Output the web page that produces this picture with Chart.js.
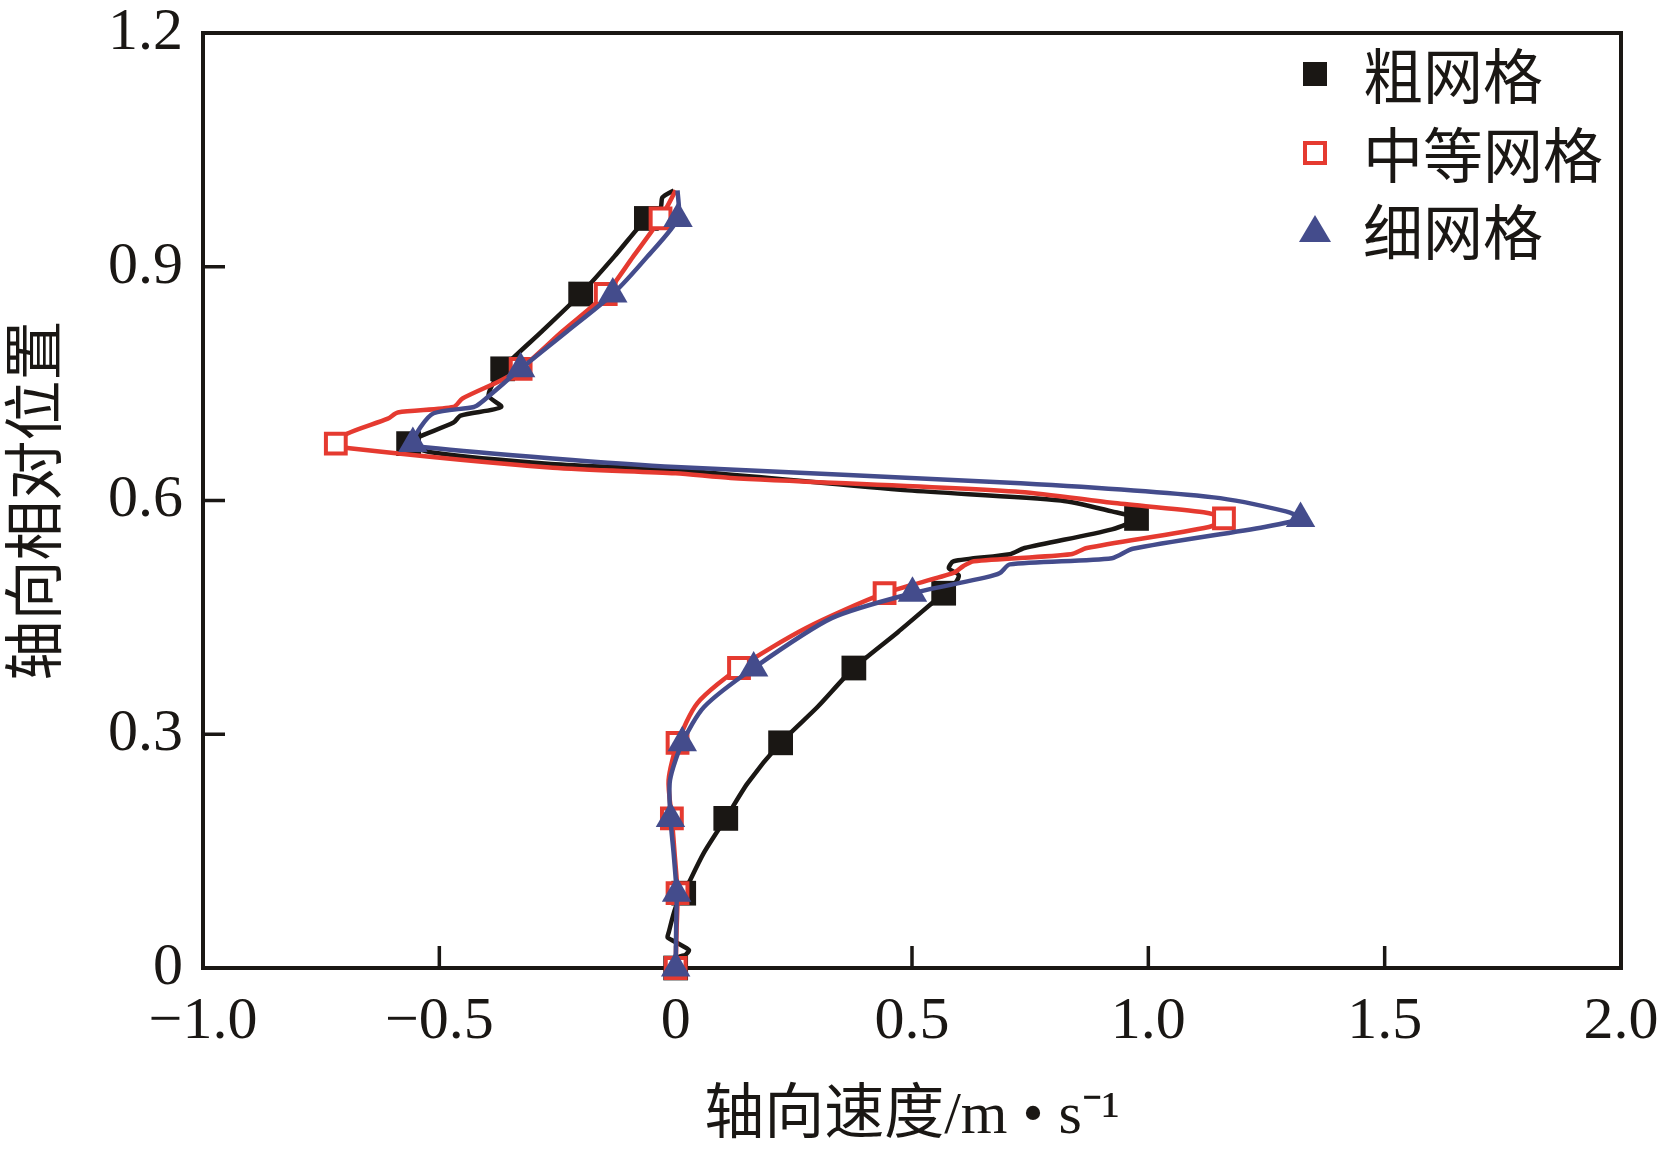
<!DOCTYPE html>
<html>
<head>
<meta charset="utf-8">
<script src="https://cdn.jsdelivr.net/npm/chart.js@4.4.1/dist/chart.umd.min.js"></script>
<style>
  html, body { margin: 0; padding: 0; background: #fff; }
  #velChart { display: block; width: 1674px; height: 1155px; }
</style>
</head>
<body>
<canvas id="velChart" width="1674" height="1155"></canvas>
<script>
// series names (legend)
const seriesNames = ["粗网格", "中等网格", "细网格"];

// rows where the curves carry a marker
const markerLevels = [0, 0.096, 0.192, 0.289, 0.385, 0.481, 0.577, 0.673, 0.769, 0.865, 0.962];

// 粗网格 : axial velocity (x) against relative axial position (y)
const coarseY = [0, 0.014, 0.017, 0.023, 0.032, 0.039, 0.045, 0.078,
  0.096, 0.147, 0.192, 0.237, 0.289, 0.335, 0.385, 0.431,
  0.481, 0.491, 0.504, 0.513, 0.522, 0.531, 0.539, 0.563,
  0.577, 0.586, 0.600, 0.613, 0.639, 0.647, 0.662, 0.673,
  0.681, 0.700, 0.709, 0.720, 0.735, 0.769, 0.817, 0.865,
  0.913, 0.962, 0.976, 0.989, 0.998];
const coarseX = [0.0, 0.006, 0.021, 0.028, 0.004, -0.017, -0.015, 0.0,
  0.017, 0.059, 0.106, 0.152, 0.222, 0.300, 0.377, 0.470,
  0.567, 0.588, 0.599, 0.578, 0.588, 0.707, 0.738, 0.923,
  0.975, 0.923, 0.815, 0.491, 0.0, -0.264, -0.518, -0.565,
  -0.546, -0.470, -0.455, -0.369, -0.396, -0.366, -0.283, -0.201,
  -0.130, -0.062, -0.032, -0.028, -0.004];

// 中等网格
const mediumY = [0, 0.05, 0.096, 0.145, 0.192, 0.241, 0.289, 0.340,
  0.385, 0.436, 0.481, 0.507, 0.516, 0.522, 0.531, 0.539,
  0.566, 0.577, 0.585, 0.597, 0.611, 0.629, 0.635, 0.642,
  0.667, 0.673, 0.686, 0.705, 0.713, 0.720, 0.731, 0.754,
  0.769, 0.817, 0.865, 0.913, 0.962, 0.998];
const mediumX = [0.0, 0.002, 0.004, -0.002, -0.008, -0.015, 0.004, 0.046,
  0.134, 0.275, 0.442, 0.588, 0.609, 0.631, 0.836, 0.870,
  1.128, 1.160, 1.117, 0.923, 0.730, 0.116, 0.0, -0.260,
  -0.690, -0.719, -0.694, -0.609, -0.588, -0.470, -0.451, -0.370,
  -0.328, -0.240, -0.148, -0.090, -0.032, 0.0];

// 细网格
const fineY = [0, 0.05, 0.096, 0.145, 0.192, 0.241, 0.289, 0.335,
  0.385, 0.449, 0.481, 0.501, 0.507, 0.518, 0.526, 0.538,
  0.566, 0.577, 0.586, 0.604, 0.622, 0.643, 0.654, 0.668,
  0.673, 0.694, 0.712, 0.720, 0.725, 0.769, 0.817, 0.865,
  0.913, 0.962, 0.998];
const fineX = [0.0, 0.001, 0.002, -0.004, -0.011, -0.012, 0.014, 0.060,
  0.165, 0.330, 0.501, 0.654, 0.686, 0.707, 0.923, 0.967,
  1.246, 1.322, 1.291, 1.138, 0.730, 0.0, -0.260, -0.525,
  -0.556, -0.540, -0.512, -0.427, -0.413, -0.328, -0.230, -0.133,
  -0.060, 0.005, 0.004];

// tick labels
const xTickLabels = ["\u22121.0", "\u22120.5", "0", "0.5", "1.0", "1.5", "2.0"];
const yTickLabels = ["0", "0.3", "0.6", "0.9", "1.2"];

const xTitle = "轴向速度/m • s\u207B\u00B9";
const yTitle = "轴向相对位置";

const INK = "#1a1714";
const serif = '"Liberation Serif", "Noto Sans CJK SC", serif';
const cjk = '"Noto Sans CJK SC", "Liberation Serif", sans-serif';

function toPoints(xs, ys) {
  return xs.map((x, i) => ({ x: x, y: ys[i] }));
}

function markerRadius(r) {
  return function (ctx) {
    if (!ctx.raw) return 0;
    return markerLevels.includes(ctx.raw.y) ? r : 0;
  };
}

// frame and inward tick marks
const framePlugin = {
  id: "frame",
  beforeDatasetsDraw(chart) {
    const { ctx, chartArea: a } = chart;
    const xs = chart.scales.x;
    const ys = chart.scales.y;
    ctx.save();
    ctx.strokeStyle = INK;
    ctx.lineWidth = 4;
    ctx.strokeRect(a.left, a.top, a.right - a.left, a.bottom - a.top);
    ctx.lineWidth = 3.5;
    ctx.beginPath();
    xs.ticks.forEach((t) => {
      if (t.value <= xs.min || t.value >= xs.max) return;
      let px = xs.getPixelForValue(t.value);
      ctx.moveTo(px, a.bottom);
      ctx.lineTo(px, a.bottom - 22);
    });
    ys.ticks.forEach((t) => {
      if (t.value <= ys.min || t.value >= ys.max) return;
      let py = ys.getPixelForValue(t.value);
      ctx.moveTo(a.left, py);
      ctx.lineTo(a.left + 22, py);
    });
    ctx.stroke();
    ctx.restore();
  },
};

// legend in the upper right corner of the plot
const legendPlugin = {
  id: "cornerLegend",
  afterDraw(chart) {
    const { ctx } = chart;
    const mx = 1315;
    const tx = 1363;
    const rows = [74, 153, 230];
    ctx.save();
    ctx.font = "60px " + cjk;
    ctx.textBaseline = "middle";
    ctx.textAlign = "left";
    chart.data.datasets.forEach((ds, i) => {
      let y = rows[i];
      ctx.lineWidth = 4;
      if (ds.pointStyle === "triangle") {
        ctx.fillStyle = ds.pointBackgroundColor;
        ctx.beginPath();
        ctx.moveTo(mx, y - 15);
        ctx.lineTo(mx + 16, y + 12);
        ctx.lineTo(mx - 16, y + 12);
        ctx.closePath();
        ctx.fill();
      } else if (ds.pointBackgroundColor === "#ffffff") {
        ctx.fillStyle = "#ffffff";
        ctx.strokeStyle = ds.pointBorderColor;
        ctx.fillRect(mx - 10, y - 10, 20, 20);
        ctx.strokeRect(mx - 10, y - 10, 20, 20);
      } else {
        ctx.fillStyle = ds.pointBackgroundColor;
        ctx.fillRect(mx - 12, y - 12, 24, 24);
      }
      ctx.fillStyle = INK;
      ctx.fillText(ds.label, tx, y + 2);
    });
    ctx.restore();
  },
};

new Chart(document.getElementById("velChart").getContext("2d"), {
  type: "scatter",
  data: {
    datasets: [
      {
        label: seriesNames[0],
        data: toPoints(coarseX, coarseY),
        showLine: true,
        tension: 0.25,
        borderColor: INK,
        borderWidth: 4.5,
        pointStyle: "rect",
        pointBackgroundColor: INK,
        pointBorderColor: INK,
        pointBorderWidth: 0,
        pointRadius: markerRadius(17.5),
        pointHoverRadius: markerRadius(17.5),
        clip: false,
        order: 3,
      },
      {
        label: seriesNames[1],
        data: toPoints(mediumX, mediumY),
        showLine: true,
        tension: 0.25,
        borderColor: "#e53a30",
        borderWidth: 4.5,
        pointStyle: "rect",
        pointBackgroundColor: "#ffffff",
        pointBorderColor: "#e53a30",
        pointBorderWidth: 4,
        pointRadius: markerRadius(14),
        pointHoverRadius: markerRadius(14),
        clip: false,
        order: 2,
      },
      {
        label: seriesNames[2],
        data: toPoints(fineX, fineY),
        showLine: true,
        tension: 0.25,
        borderColor: "#444c8c",
        borderWidth: 4.5,
        pointStyle: "triangle",
        pointBackgroundColor: "#444c8c",
        pointBorderColor: "#444c8c",
        pointBorderWidth: 0,
        pointRadius: markerRadius(17),
        pointHoverRadius: markerRadius(17),
        clip: false,
        order: 1,
      },
    ],
  },
  options: {
    responsive: false,
    animation: false,
    devicePixelRatio: 1,
    layout: {
      padding: { left: 0, top: 33, right: 53, bottom: 0 },
    },
    plugins: {
      legend: { display: false },
      tooltip: { enabled: false },
    },
    scales: {
      x: {
        type: "linear",
        min: -1,
        max: 2,
        afterFit: (s) => {
          s.height = 187;
          s.paddingLeft = 0;
          s.paddingRight = 0;
        },
        grid: { display: false, drawTicks: false },
        border: { display: false },
        ticks: {
          stepSize: 0.5,
          padding: 24,
          color: INK,
          font: { family: serif, size: 60, lineHeight: 1 },
          callback: function (value, index) {
            return xTickLabels[index];
          },
        },
        title: {
          display: true,
          text: xTitle,
          color: INK,
          font: { family: serif, size: 60, lineHeight: 1.2 },
          padding: { top: 0, bottom: 2 },
        },
      },
      y: {
        type: "linear",
        min: 0,
        max: 1.2,
        afterFit: (s) => {
          s.width = 203;
          s.paddingTop = 0;
          s.paddingBottom = 0;
        },
        grid: { display: false, drawTicks: false },
        border: { display: false },
        ticks: {
          stepSize: 0.3,
          padding: 20,
          color: INK,
          font: { family: serif, size: 60, lineHeight: 1 },
          callback: function (value, index) {
            return yTickLabels[index];
          },
        },
        title: {
          display: true,
          text: yTitle,
          color: INK,
          font: { family: cjk, size: 60, lineHeight: 1.1 },
          padding: { top: 0, bottom: 0 },
        },
      },
    },
  },
  plugins: [framePlugin, legendPlugin],
});
</script>
</body>
</html>
